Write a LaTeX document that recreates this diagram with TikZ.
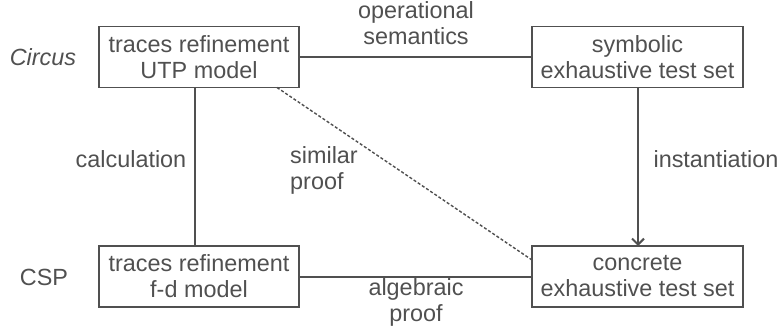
\documentclass[tikz,border=0pt]{standalone}
\usepackage{fontspec}
\setmainfont{Liberation Sans}
\usetikzlibrary{arrows.meta}
\definecolor{ink}{HTML}{505050}
\begin{document}
\begin{tikzpicture}[x=1pt,y=-1pt,
  every node/.style={text=ink,font=\fontsize{23.4}{26}\selectfont},
  box/.style={draw=ink,line width=1.8pt,minimum height=61pt,inner sep=0pt,align=center},
  conn/.style={draw=ink,line width=2pt},
  lbl/.style={align=center,inner sep=0pt}]
\useasboundingbox (0,0) rectangle (779,335);
\node[box,minimum width=200pt] (tl) at (199,57) {traces refinement\\UTP model};
\node[box,minimum width=211pt] (tr) at (637.5,57) {symbolic\\exhaustive test set};
\node[box,minimum width=200pt] (bl) at (199,276.5) {traces refinement\\f-d model};
\node[box,minimum width=211pt] (br) at (637.5,276.5) {concrete\\exhaustive test set};
\node[lbl,font=\fontsize{23.4}{26}\selectfont\itshape] (circus) at (43,57) {Circus};
\node[lbl] (csp) at (44,277) {CSP};
\node[lbl] (ops) at (416,23.5) {operational\\semantics};
\node[lbl] (calc) at (131,159) {calculation};
\node[lbl,align=left,anchor=west] (sim) at (290,170) {similar\\proof};
\node[lbl] (inst) at (716,159) {instantiation};
\node[lbl] (alg) at (416,302) {algebraic\\proof};
\coordinate (tlb) at (195,87.5);
\coordinate (blt) at (195,246);
\coordinate (trb) at (638,87.5);
\coordinate (brt) at (638,246);
\coordinate (ds) at (277,87.5);
\coordinate (de) at (532,260);
\draw[conn] (tl.east) -- (tr.west);
\draw[conn] (bl.east) -- (br.west);
\draw[conn] (tlb) -- (blt);
\draw[conn,-{Straight Barb[length=6pt,width=12pt]}] (trb) -- (brt);
\draw[draw=ink,line width=1.4pt,dash pattern=on 3pt off 2pt] (ds) -- (de);
\end{tikzpicture}
\end{document}
